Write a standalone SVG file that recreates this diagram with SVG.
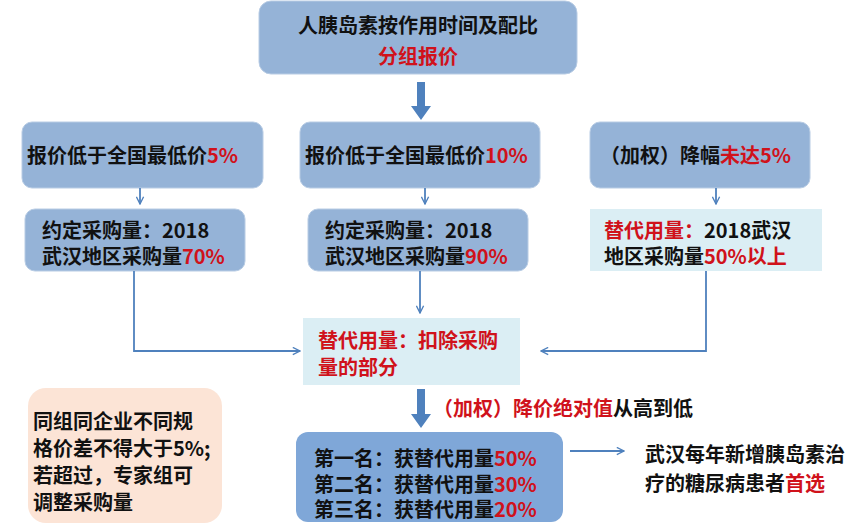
<svg xmlns="http://www.w3.org/2000/svg" width="868" height="526" viewBox="0 0 868 526">
<defs>
<marker id="a" viewBox="0 0 10 10" refX="9" refY="5" markerWidth="9" markerHeight="9" markerUnits="userSpaceOnUse" orient="auto"><path d="M1,1 L9,5 L1,9" fill="none" stroke="#4f81bd" stroke-width="1.5"/></marker>
</defs>
<style>
.bx{fill:#95b3d7;stroke:#b8cce4;stroke-width:1}
.lt{fill:#dbeef4}
text{font-family:"Noto Sans CJK SC","Liberation Sans",sans-serif;font-size:20px;font-weight:bold;fill:#111}
.r{fill:#d0121b}
.ln{fill:none;stroke:#4f81bd;stroke-width:1.8}
.big{fill:#4f81bd}
</style>
<rect width="868" height="526" fill="#fff"/>
<g id="top"><rect class="bx" x="259" y="1" width="318" height="73" rx="12"/>
<text x="418" y="33" text-anchor="middle" font-size="25">人胰岛素按作用时间及配比</text>
<text x="418" y="64" text-anchor="middle" font-size="25" class="r">分组报价</text></g>
<g id="n1"><rect class="bx" x="22" y="122" width="241" height="66" rx="10"/><text x="27" y="163">报价低于全国最低价<tspan class="r">5%</tspan></text></g>
<g id="n2"><rect class="bx" x="300" y="122" width="240" height="66" rx="10"/><text x="305" y="163">报价低于全国最低价<tspan class="r">10%</tspan></text></g>
<g id="n3"><rect class="bx" x="590" y="122" width="220" height="66" rx="10"/><text x="600" y="163">（加权）降幅<tspan class="r">未达5%</tspan></text></g>
<g id="m1"><rect class="bx" x="25" y="209" width="220" height="62" rx="10"/><text x="42" y="238">约定采购量：2018</text><text x="42" y="264">武汉地区采购量<tspan class="r">70%</tspan></text></g>
<g id="m2"><rect class="bx" x="308" y="209" width="220" height="62" rx="10"/><text x="325" y="238">约定采购量：2018</text><text x="325" y="264">武汉地区采购量<tspan class="r">90%</tspan></text></g>
<g id="m3"><rect class="lt" x="590" y="209" width="232" height="62"/><text x="604" y="238"><tspan class="r">替代用量：</tspan>2018武汉</text><text x="604" y="264">地区采购量<tspan class="r">50%以上</tspan></text></g>
<g id="c"><rect class="lt" x="303" y="318" width="217" height="67"/><text x="318" y="348" class="r">替代用量：扣除采购</text><text x="318" y="375" class="r">量的部分</text></g>
<g id="rank"><rect x="296" y="432" width="267" height="90" rx="12" fill="#7fa7d8"/>
<text x="314" y="466">第一名：获替代用量<tspan class="r">50%</tspan></text>
<text x="314" y="492">第二名：获替代用量<tspan class="r">30%</tspan></text>
<text x="314" y="517">第三名：获替代用量<tspan class="r">20%</tspan></text></g>
<g id="note"><rect x="28" y="388" width="194" height="135" rx="18" fill="#fce4d6"/>
<text x="33" y="429">同组同企业不同规</text><text x="33" y="456">格价差不得大于5%;</text><text x="33" y="483">若超过，专家组可</text><text x="33" y="510">调整采购量</text></g>
<g id="res"><text x="645" y="462" font-size="22">武汉每年新增胰岛素治</text><text x="645" y="491" font-size="22">疗的糖尿病患者<tspan class="r">首选</tspan></text></g>
<text x="433" y="416" font-size="18"><tspan class="r">（加权）降价绝对值</tspan>从高到低</text>
<g id="connectors">
<polygon class="big" points="417,82 425,82 425,106 431,106 421,120 411,106 417,106"/>
<polygon class="big" points="417,389 425,389 425,414 431,414 421,428 411,414 417,414"/>
<path class="ln" d="M140,188 V204" marker-end="url(#a)"/>
<path class="ln" d="M425,188 V204" marker-end="url(#a)"/>
<path class="ln" d="M716,188 V204" marker-end="url(#a)"/>
<path class="ln" d="M420,271 V313" marker-end="url(#a)"/>
<path class="ln" d="M134,271 V351 H300" marker-end="url(#a)"/>
<path class="ln" d="M706,271 V351 H541" marker-end="url(#a)"/>
<path class="ln" d="M570,451 H624" marker-end="url(#a)"/>
</g>
</svg>
